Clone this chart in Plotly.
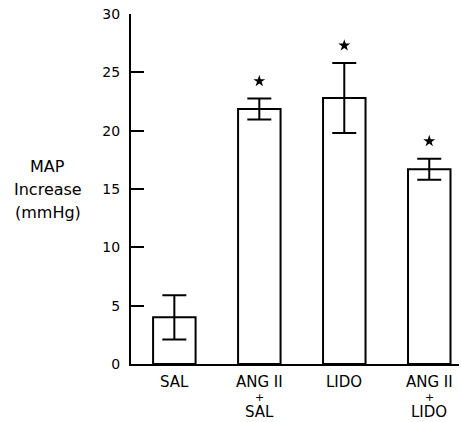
import plotly.graph_objects as go

categories = ["SAL", "ANG II+SAL", "LIDO", "ANG II+LIDO"]
label_top = ["SAL", "ANG II", "LIDO", "ANG II"]
label_plus = ["", "+", "", "+"]
label_bottom = ["", "SAL", "", "LIDO"]
means = [4.0, 21.85, 22.8, 16.7]
errors = [1.9, 0.9, 3.0, 0.9]
significant = [False, True, True, True]
yticks = [0, 5, 10, 15, 20, 25, 30]
ytitle_lines = ["MAP", "Increase", "(mmHg)"]

FONT = "DejaVu Sans, Verdana, sans-serif"
xs = list(range(len(categories)))

fig = go.Figure()
fig.add_trace(go.Bar(
    x=xs, y=means, width=0.5,
    marker=dict(color="white", line=dict(color="black", width=2)),
    error_y=dict(type="data", array=errors, visible=True, color="black",
                 thickness=2, width=12),
    showlegend=False, hoverinfo="skip",
))

star_x = [x for x, s in zip(xs, significant) if s]
star_y = [m + e + 1.5 for m, e, s in zip(means, errors, significant) if s]
fig.add_trace(go.Scatter(
    x=star_x, y=star_y, mode="markers",
    marker=dict(symbol="star", size=9, color="black"),
    showlegend=False, hoverinfo="skip",
))

annotations = []
for x, t, p, b in zip(xs, label_top, label_plus, label_bottom):
    annotations.append(dict(x=x, y=0, xref="x", yref="y", text=t, showarrow=False,
                            yanchor="middle", yshift=-18, font=dict(size=15, color="black", family=FONT)))
    if p:
        annotations.append(dict(x=x, y=0, xref="x", yref="y", text=p, showarrow=False,
                                yanchor="middle", yshift=-33, font=dict(size=11, color="black", family=FONT)))
    if b:
        annotations.append(dict(x=x, y=0, xref="x", yref="y", text=b, showarrow=False,
                                yanchor="middle", yshift=-48, font=dict(size=15, color="black", family=FONT)))

for i, line in enumerate(ytitle_lines):
    annotations.append(dict(x=-0.5, y=15.0, xref="x", yref="y", text=line, showarrow=False,
                            xanchor="center", yanchor="middle", xshift=-84,
                            yshift=(1 - i) * 23,
                            font=dict(size=16, color="black", family=FONT)))

fig.update_layout(
    width=461, height=422,
    margin=dict(l=131, r=2, t=14, b=58),
    paper_bgcolor="white", plot_bgcolor="white",
    font=dict(family=FONT, color="black", size=14),
    annotations=annotations,
    bargap=0.5,
)
fig.update_xaxes(
    range=[-0.51, 3.35], showticklabels=False, ticks="", showgrid=False,
    zeroline=False, showline=True, linecolor="black", linewidth=2,
)
fig.update_yaxes(
    range=[0, 30], tickvals=yticks, ticks="inside", ticklen=13, tickwidth=2,
    tickcolor="black", showgrid=False, zeroline=False, showline=True,
    linecolor="black", linewidth=2, ticklabelstandoff=6,
    tickfont=dict(size=14, color="black", family=FONT),
)

fig.write_html("out.html", config={"displayModeBar": False},
               post_script="document.body.style.margin='0';")
